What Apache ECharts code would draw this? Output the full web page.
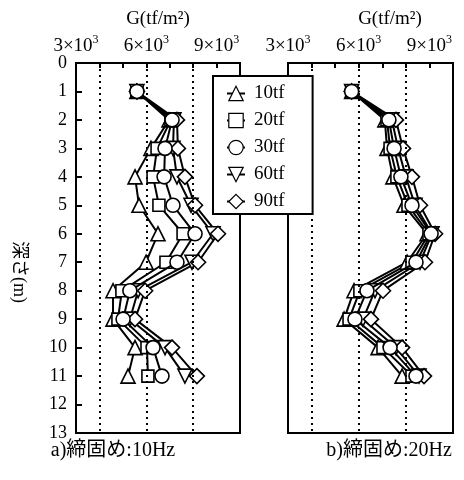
<!DOCTYPE html>
<html><head><meta charset="utf-8">
<script src="https://cdn.jsdelivr.net/npm/echarts@6/dist/echarts.min.js"></script>
<style>html,body{margin:0;padding:0;background:#fff}#c{width:464px;height:480px}</style>
</head><body><div id="c"></div>
<script>
const depths = [1,2,3,4,5,6,7,8,9,10,11];
const seriesNames = ['10tf','20tf','30tf','60tf','90tf'];
const xLabelValues = [3000, 6000, 9000];
const gridLineValues = [4000, 6000, 8000];
// a) 締固め:10Hz
const a10 = [5600, 6970, 6200, 5520, 5690, 6500, 5990, 4580, 4580, 5520, 5220];
const a20 = [5600, 7050, 6460, 6290, 6540, 7570, 6840, 4960, 4790, 6030, 6070];
const a30 = [5600, 7100, 6800, 6760, 7140, 8080, 7310, 5300, 5010, 6290, 6670];
const a60 = [5600, 7180, 7140, 7310, 7910, 8850, 7950, 5650, 5300, 6800, 7650];
const a90 = [5600, 7310, 7350, 7650, 8080, 9060, 8210, 5950, 5520, 7100, 8160];
// b) 締固め:20Hz
const b10 = [5700, 7110, 7200, 7450, 7920, 8900, 8050, 5800, 5380, 6820, 7840];
const b20 = [5700, 7200, 7330, 7620, 8090, 8980, 8260, 6050, 5590, 7030, 8260];
const b30 = [5700, 7280, 7500, 7790, 8260, 9070, 8430, 6350, 5840, 7330, 8430];
const b60 = [5700, 7410, 7670, 8000, 8390, 9110, 8600, 6690, 6180, 7580, 8560];
const b90 = [5700, 7580, 7880, 8260, 8600, 9240, 8810, 7030, 6520, 7840, 8770];

const serif = '"Liberation Serif","Noto Sans CJK JP",serif';
const symbols = ['triangle','rect','circle','triangle','diamond'];
const rotates = [0,0,0,180,0];
const sizes = [14,12,14,14,15];
const zs = [3,3,5,3,3];

function mkSeries(vals, gi, withGrid) {
  return vals.map((arr, i) => {
    const s = {
      name: seriesNames[i], type: 'line', xAxisIndex: gi, yAxisIndex: gi,
      data: depths.map((d, k) => [arr[k], d]),
      symbol: symbols[i], symbolRotate: rotates[i], symbolSize: sizes[i], z: zs[i],
      showAllSymbol: true, animation: false,
      lineStyle: {color: '#000', width: 2},
      itemStyle: {color: '#fff', borderColor: '#000', borderWidth: 1.6}
    };
    if (i === 0 && withGrid) {
      s.markLine = {
        silent: true, symbol: 'none', label: {show: false}, animation: false,
        lineStyle: {color: '#000', width: 2, type: [2, 4]},
        data: gridLineValues.map(v => ({xAxis: v}))
      };
    }
    return s;
  });
}

function xAxis(gi) {
  return {
    type: 'value', gridIndex: gi, position: 'top', min: 3000, max: 10000, interval: 1000,
    axisLine: {show: true, lineStyle: {color: '#000', width: 2}},
    axisTick: {show: true, inside: true, length: 5, lineStyle: {color: '#000', width: 2}},
    splitLine: {show: false},
    axisLabel: {
      margin: 7, color: '#000', showMaxLabel: true, showMinLabel: true,
      formatter: v => xLabelValues.includes(v) ? '{n|' + (v/1000) + '×10}{s|3}' : '',
      rich: {
        n: {fontSize: 19, fontFamily: serif, color: '#000', verticalAlign: 'bottom', lineHeight: 22},
        s: {fontSize: 12, fontFamily: serif, color: '#000', verticalAlign: 'top', lineHeight: 22}
      }
    }
  };
}
function yAxis(gi, show) {
  return {
    type: 'value', gridIndex: gi, inverse: true, min: 0, max: 13, interval: 1,
    axisLine: {show: true, lineStyle: {color: '#000', width: 2}},
    axisTick: {show: show, inside: true, length: 6, lineStyle: {color: '#000', width: 2}},
    splitLine: {show: false},
    axisLabel: {show: show, margin: 9, color: '#000', fontSize: 18, fontFamily: serif}
  };
}

const chart = echarts.init(document.getElementById('c'), null, {renderer: 'canvas'});
chart.setOption({
  animation: false,
  backgroundColor: '#fff',
  grid: [
    {left: 76, right: 224, top: 63, bottom: 47, show: true, borderColor: '#000', borderWidth: 2, backgroundColor: 'transparent'},
    {left: 288, right: 11, top: 63, bottom: 47, show: true, borderColor: '#000', borderWidth: 2, backgroundColor: 'transparent'}
  ],
  xAxis: [xAxis(0), xAxis(1)],
  yAxis: [yAxis(0, true), yAxis(1, false)],
  legend: {
    data: seriesNames, orient: 'vertical', left: 213, top: 76, z: 20,
    backgroundColor: '#fff', borderColor: '#000', borderWidth: 2, borderRadius: 0,
    padding: [8, 28, 3, 13], itemGap: 8, itemWidth: 18, itemHeight: 18,
    selectedMode: false,
    textStyle: {color: '#000', fontSize: 19, fontFamily: serif, padding: [0, 0, 0, 4]},
    itemStyle: {color: '#fff', borderColor: '#000', borderWidth: 1.2}
  },
  graphic: [
    {type: 'text', style: {text: 'G(tf/m²)', font: '19px ' + serif, fill: '#000', x: 158, y: 19, textAlign: 'center', textVerticalAlign: 'middle'}},
    {type: 'text', style: {text: 'G(tf/m²)', font: '19px ' + serif, fill: '#000', x: 390, y: 19, textAlign: 'center', textVerticalAlign: 'middle'}},
    {type: 'text', style: {text: 'a)締固め:10Hz', font: '20px ' + serif, fill: '#000', x: 113, y: 451, textAlign: 'center', textVerticalAlign: 'middle'}},
    {type: 'text', style: {text: 'b)締固め:20Hz', font: '20px ' + serif, fill: '#000', x: 389, y: 451, textAlign: 'center', textVerticalAlign: 'middle'}},
    {type: 'text', x: 19, y: 272, rotation: -Math.PI / 2, style: {text: '深さ(m)', font: '18px ' + serif, fill: '#000', textAlign: 'center', textVerticalAlign: 'middle'}}
  ],
  series: [].concat(
    mkSeries([a10, a20, a30, a60, a90], 0, true),
    mkSeries([b10, b20, b30, b60, b90], 1, true)
  )
});
</script></body></html>
